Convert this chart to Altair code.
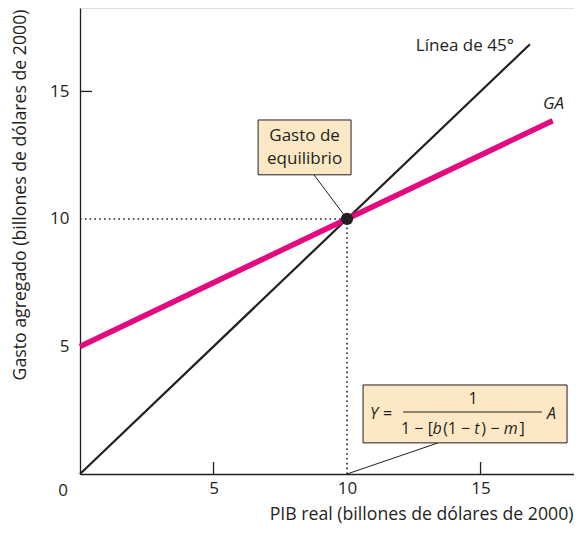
import altair as alt
import pandas as pd

# ---------------- data ----------------
line45_x = [0, 16.85]
line45_y = [0, 16.85]
ga_x = [0, 17.7]
ga_y = [5, 13.85]
eq_x = [10]
eq_y = [10]
axis_values = [5, 10, 15]
x_inner_ticks = [5, 15]
y_inner_ticks = [15]

W, H = 494, 466
XMAX = 18.5
YMAX = 18.27

FONT = "Open Sans"
INK = "#231f20"
PINK = "#e4097f"
BOXFILL = "#fde8c6"
FS = 17
FT = 17.7  # axis titles
FF = 16  # formula

xs = alt.Scale(domain=[0, XMAX], nice=False, zero=True)
ys = alt.Scale(domain=[0, YMAX], nice=False, zero=True)

xax = alt.Axis(values=axis_values, tickSize=0, labelPadding=6, labelFontSize=FS, labelFont=FONT,
               labelColor=INK, domainColor=INK, domainWidth=1.3, grid=False, labelFlush=False,
               format="d", title="PIB real (billones de dólares de 2000)", titleFont=FONT,
               titleFontSize=FT, titleFontWeight="normal", titleColor=INK, titleAnchor="end",
               titleAlign="right", titleX=W - 1, titleY=40, titleBaseline="middle")
yax = alt.Axis(values=axis_values, tickSize=0, labelPadding=11, labelFontSize=FS, labelFont=FONT,
               labelColor=INK, domainColor=INK, domainWidth=1.3, grid=False, labelFlush=False,
               format="d", title="Gasto agregado (billones de dólares de 2000)", titleFont=FONT,
               titleFontSize=FT, titleFontWeight="normal", titleColor=INK, titleAngle=270,
               titleAlign="right", titleBaseline="middle", titleX=-60, titleY=1)


def X(field="x"):
    return alt.X(field, type="quantitative", scale=xs, axis=xax)


def Y(field="y"):
    return alt.Y(field, type="quantitative", scale=ys, axis=yax)


def XD(v):
    return alt.X(datum=v, type="quantitative", scale=xs, axis=xax)


def YD(v):
    return alt.Y(datum=v, type="quantitative", scale=ys, axis=yax)


line45 = pd.DataFrame({"x": line45_x, "y": line45_y})
ga = pd.DataFrame({"x": ga_x, "y": ga_y})
eq = pd.DataFrame({"x": eq_x, "y": eq_y})

# dotted guides
dots = pd.DataFrame({"x": [0, 10], "y": [10, 0], "x2": [10, 10], "y2": [10, 10]})
dotted = alt.Chart(dots).mark_rule(color=INK, strokeWidth=1.6, strokeDash=[1.6, 3.2]).encode(
    x=X(), y=Y(), x2="x2", y2="y2")

# inward ticks
xt = alt.Chart(pd.DataFrame({"v": x_inner_ticks})).mark_rule(color=INK, strokeWidth=1.3).encode(
    x=X("v"), y=alt.value(H), y2=alt.value(H - 12))
yt = alt.Chart(pd.DataFrame({"v": y_inner_ticks})).mark_rule(color=INK, strokeWidth=1.3).encode(
    y=Y("v"), x=alt.value(0), x2=alt.value(12))

zero_lbl = alt.Chart(pd.DataFrame({"t": ["0"]})).mark_text(
    font=FONT, fontSize=FS, color=INK, align="center", baseline="middle", dx=-17, dy=17).encode(
    x=XD(0), y=YD(0), text="t:N")

l45 = alt.Chart(line45).mark_line(color=INK, strokeWidth=2.2).encode(x=X(), y=Y())
lga = alt.Chart(ga).mark_line(color=PINK, strokeWidth=5.5, strokeCap="butt").encode(x=X(), y=Y())

# callout 1
lead1 = alt.Chart(pd.DataFrame({"x": [8.76], "y": [11.73], "x2": [10], "y2": [10]})).mark_rule(
    color=INK, strokeWidth=1).encode(x=X(), y=Y(), x2="x2", y2="y2")
box1 = alt.Chart(pd.DataFrame({"x": [6.67], "x2": [10.15], "y": [13.88], "y2": [11.73]})).mark_rect(
    fill=BOXFILL, stroke=INK, strokeWidth=1).encode(x=X(), x2="x2", y=Y(), y2="y2")
txt1 = alt.Chart(pd.DataFrame({"x": [8.41, 8.41], "y": [13.25, 12.35],
                               "t": ["Gasto de", "equilibrio"]})).mark_text(
    font=FONT, fontSize=FS, color=INK, align="center", baseline="middle").encode(
    x=X(), y=Y(), text="t:N")

# callout 2 (formula)
lead2 = alt.Chart(pd.DataFrame({"x": [13.41], "y": [1.22], "x2": [10], "y2": [0]})).mark_rule(
    color=INK, strokeWidth=1).encode(x=X(), y=Y(), x2="x2", y2="y2")
box2 = alt.Chart(pd.DataFrame({"x": [10.60], "x2": [18.24], "y": [3.49], "y2": [1.22]})).mark_rect(
    fill=BOXFILL, stroke=INK, strokeWidth=1).encode(x=X(), x2="x2", y=Y(), y2="y2")
bar = alt.Chart(pd.DataFrame({"x": [12.10], "x2": [17.30], "y": [2.43]})).mark_rule(
    color=INK, strokeWidth=1).encode(x=X(), x2="x2", y=Y())
num = alt.Chart(pd.DataFrame({"x": [14.72], "y": [2.94], "t": ["1"]})).mark_text(
    font=FONT, fontSize=FF, color=INK, align="center", baseline="middle").encode(
    x=X(), y=Y(), text="t:N")
normal_glyphs = pd.DataFrame({
    "t": ["=", "1", "−", "[", "(", "1", "−", ")", "−", "]"],
    "x": [11.35, 12.02, 12.52, 13.02, 13.60, 13.77, 14.27, 15.03, 15.37, 16.46],
    "y": [2.35, 1.76, 1.76, 1.76, 1.76, 1.76, 1.76, 1.76, 1.76, 1.76],
})
italic_glyphs = pd.DataFrame({
    "t": ["Y", "A", "b", "t", "m"],
    "x": [10.86, 17.49, 13.20, 14.76, 15.87],
    "y": [2.35, 2.35, 1.76, 1.76, 1.76],
})
fn = alt.Chart(normal_glyphs).mark_text(font=FONT, fontSize=FF, color=INK, align="left",
                                        baseline="middle").encode(x=X(), y=Y(), text="t:N")
fi = alt.Chart(italic_glyphs).mark_text(font=FONT, fontSize=FF, color=INK, align="left",
                                        baseline="middle", fontStyle="italic").encode(
    x=X(), y=Y(), text="t:N")

# line labels
lbl45 = alt.Chart(pd.DataFrame({"x": [16.25], "y": [16.78], "t": ["Línea de 45°"]})).mark_text(
    font=FONT, fontSize=FS, color=INK, align="right", baseline="middle").encode(
    x=X(), y=Y(), text="t:N")
lblga = alt.Chart(pd.DataFrame({"x": [17.73], "y": [14.51], "t": ["GA"]})).mark_text(
    font=FONT, fontSize=FS, color=INK, align="center", baseline="middle", fontStyle="italic").encode(
    x=X(), y=Y(), text="t:N")

pt = alt.Chart(eq).mark_circle(color=INK, opacity=1, size=150).encode(x=X(), y=Y())

chart = alt.layer(
    dotted, xt, yt, zero_lbl, l45, lga, lead1, box1, txt1, lead2, box2, bar, num, fn, fi, lbl45,
    lblga, pt
).properties(
    width=W, height=H,
    autosize=alt.AutoSizeParams(type="none"),
    padding={"left": 72, "top": 0, "right": 0, "bottom": 50},
).configure_view(stroke=None).configure(background="white")

chart.save("out.html", embed_options={"renderer": "svg", "actions": False})
